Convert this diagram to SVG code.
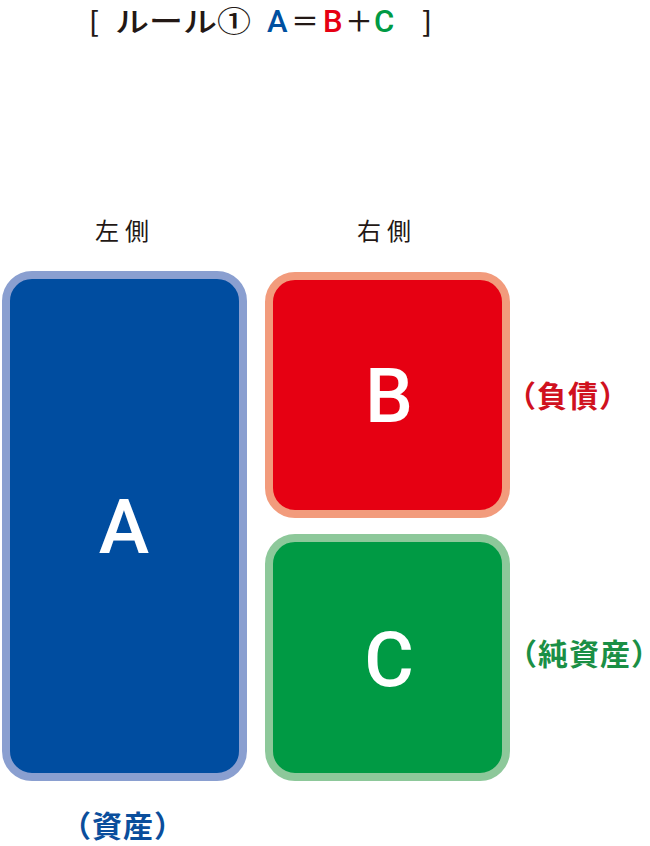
<svg xmlns="http://www.w3.org/2000/svg" width="650" height="846" viewBox="0 0 650 846">
<style>
.box{stroke-width:8}
.big{font-family:Roboto,"Liberation Sans",sans-serif;font-size:76px;font-weight:500;fill:#ffffff;text-anchor:middle}
.side{font-family:"Noto Sans CJK JP",sans-serif;font-size:24px;fill:#231815;letter-spacing:6px}
.lab{font-family:"Noto Sans CJK JP",sans-serif;font-size:30px;font-weight:bold}
.ttl{font-family:"Noto Sans CJK JP",sans-serif;font-size:28px;font-weight:500;fill:#231815}
.lat{font-family:Roboto,"Liberation Sans",sans-serif;font-size:31px;font-weight:500}
</style>
<rect width="650" height="846" fill="#ffffff"/>
<g id="title">
<text class="ttl" x="89" y="32">[</text>
<text class="ttl" x="115" y="32" textLength="136" lengthAdjust="spacingAndGlyphs">ルール①</text>
<text class="lat" x="267" y="32" fill="#0050A0">A</text>
<text class="ttl" x="291" y="32">＝</text>
<text class="lat" x="323" y="32" fill="#E60012">B</text>
<text class="ttl" x="345" y="32">＋</text>
<text class="lat" x="374" y="32" fill="#009A44">C</text>
<text class="ttl" x="422" y="32">]</text>
</g>
<g id="labels-top">
<text class="side" x="95" y="240">左側</text>
<text class="side" x="357" y="240">右側</text>
</g>
<g id="node-A">
<rect class="box" x="6" y="275" width="237" height="502" rx="26" fill="#004DA0" stroke="#8A9FD0"/>
<text class="big" x="124" y="553">A</text>
<text class="lab" x="61" y="837" fill="#0A4E9C" font-size="29" letter-spacing="1">（資産）</text>
</g>
<g id="node-B">
<rect class="box" x="269" y="276" width="237" height="238" rx="26" fill="#E60012" stroke="#F29B7C"/>
<text class="big" x="389" y="422">B</text>
<text class="lab" x="506" y="407" fill="#D0111E" letter-spacing="1">（負債）</text>
</g>
<g id="node-C">
<rect class="box" x="269" y="538" width="237" height="239" rx="26" fill="#009A44" stroke="#8DC89A"/>
<text class="big" x="389" y="686">C</text>
<text class="lab" x="507" y="665" fill="#1A8F45" font-size="27" letter-spacing="1">（純資産）</text>
</g>
<g id="connectors"></g>
</svg>
